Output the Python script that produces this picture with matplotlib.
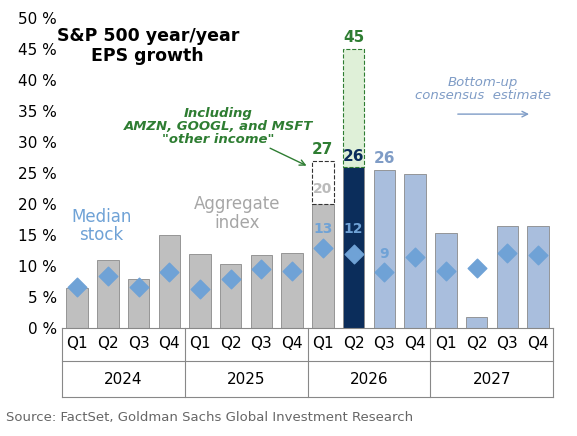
import matplotlib
matplotlib.use("Agg")
import matplotlib.pyplot as plt

quarters = ["Q1","Q2","Q3","Q4"]*4
years = ["2024","2025","2026","2027"]
bars = [6.5,11.0,8.0,15.0, 12.0,10.3,11.8,12.2, 20.0,26.0,25.5,24.8, 15.3,1.8,16.5,16.5]
other_income_top = {8:27, 9:45}
median = [6.7,8.5,6.6,9.1, 6.3,8.0,9.6,9.3, 13.0,12.0,9.0,11.5, 9.2,9.7,12.1,11.8]

grey="#bfbfbf"; lb="#a9bedd"; navy="#0b2d5b"; diam="#6fa2d6"
colors=[grey]*9+[navy]+[lb]*6

fig=plt.figure(figsize=(5.77,4.36),dpi=100)
ax=fig.add_axes([0.107,0.247,0.852,0.712])
x=list(range(16))
ax.bar(x,bars,width=0.7,color=colors,edgecolor="#8a8a8a",linewidth=0.6,zorder=2)
ax.bar(8,other_income_top[8]-bars[8],bottom=bars[8],width=0.7,color="white",edgecolor="#333",linestyle="--",linewidth=0.8,zorder=2)
ax.bar(9,other_income_top[9]-bars[9],bottom=bars[9],width=0.7,color="#dff0d8",edgecolor="#2e7d32",linestyle="--",linewidth=0.8,zorder=2)
ax.scatter(x,median,marker="D",s=90,color=diam,zorder=3)
ax.set_xlim(-0.5,15.5); ax.set_ylim(0,50)
ax.set_yticks(range(0,51,5)); ax.set_yticklabels([f"{v} %" for v in range(0,51,5)],fontsize=11)
ax.set_xticks([])
for s in ["top","right","left"]: ax.spines[s].set_visible(False)
ax.tick_params(axis="y",length=0)
ax.spines["bottom"].set_color("#888")
for i,q in enumerate(quarters):
    ax.text(i,-2.5,q,ha="center",va="center",fontsize=11)
for j,y in enumerate(years):
    ax.text(j*4+1.5,-8.3,y,ha="center",va="center",fontsize=11)
for b in [-0.5,3.5,7.5,11.5,15.5]:
    ax.plot([b,b],[0,-11],color="#888",lw=0.8,clip_on=False)
ax.plot([-0.5,15.5],[-5.2,-5.2],color="#888",lw=0.8,clip_on=False)
ax.plot([-0.5,15.5],[-11,-11],color="#888",lw=0.8,clip_on=False)
ax.text(8,27.6,"27",ha="center",va="bottom",fontsize=11,fontweight="bold",color="#2e7d32")
ax.text(9,45.6,"45",ha="center",va="bottom",fontsize=11,fontweight="bold",color="#2e7d32")
ax.text(8,22.5,"20",ha="center",va="center",fontsize=10,fontweight="bold",color="#bbbbbb")
ax.text(9,26.4,"26",ha="center",va="bottom",fontsize=11,fontweight="bold",color=navy)
ax.text(10,26.2,"26",ha="center",va="bottom",fontsize=11,fontweight="bold",color="#7f9cc6")
ax.text(8,16,"13",ha="center",va="center",fontsize=10,fontweight="bold",color="#6fa2d6")
ax.text(9,16,"12",ha="center",va="center",fontsize=10,fontweight="bold",color="#6fa2d6")
ax.text(10,12,"9",ha="center",va="center",fontsize=10,fontweight="bold",color="#6fa2d6")
ax.text(2.3,45.5,"S&P 500 year/year\nEPS growth",ha="center",va="center",fontsize=12.5,fontweight="bold",linespacing=1.1)
ax.text(4.6,32.5,"Including\nAMZN, GOOGL, and MSFT\n\"other income\"",ha="center",va="center",fontsize=9.5,fontweight="bold",style="italic",color="#2e7d32",linespacing=1.0)
ax.annotate("",xy=(7.55,26),xytext=(6.2,29.2),arrowprops=dict(arrowstyle="->",color="#2e7d32",lw=1))
ax.text(13.2,38.5,"Bottom-up\nconsensus  estimate",ha="center",va="center",fontsize=9.5,style="italic",color="#7f9cc6",linespacing=1.0)
ax.annotate("",xy=(14.8,34.5),xytext=(12.3,34.5),arrowprops=dict(arrowstyle="->",color="#7f9cc6",lw=1))
ax.text(0.8,16.5,"Median\nstock",ha="center",va="center",fontsize=12,color="#6fa2d6",linespacing=1.05)
ax.text(5.2,18.5,"Aggregate\nindex",ha="center",va="center",fontsize=12,color="#a6a6a6",linespacing=1.05)
fig.text(0.01,0.035,"Source: FactSet, Goldman Sachs Global Investment Research",fontsize=9.5,color="#666")
fig.savefig("out.png",dpi=100)
